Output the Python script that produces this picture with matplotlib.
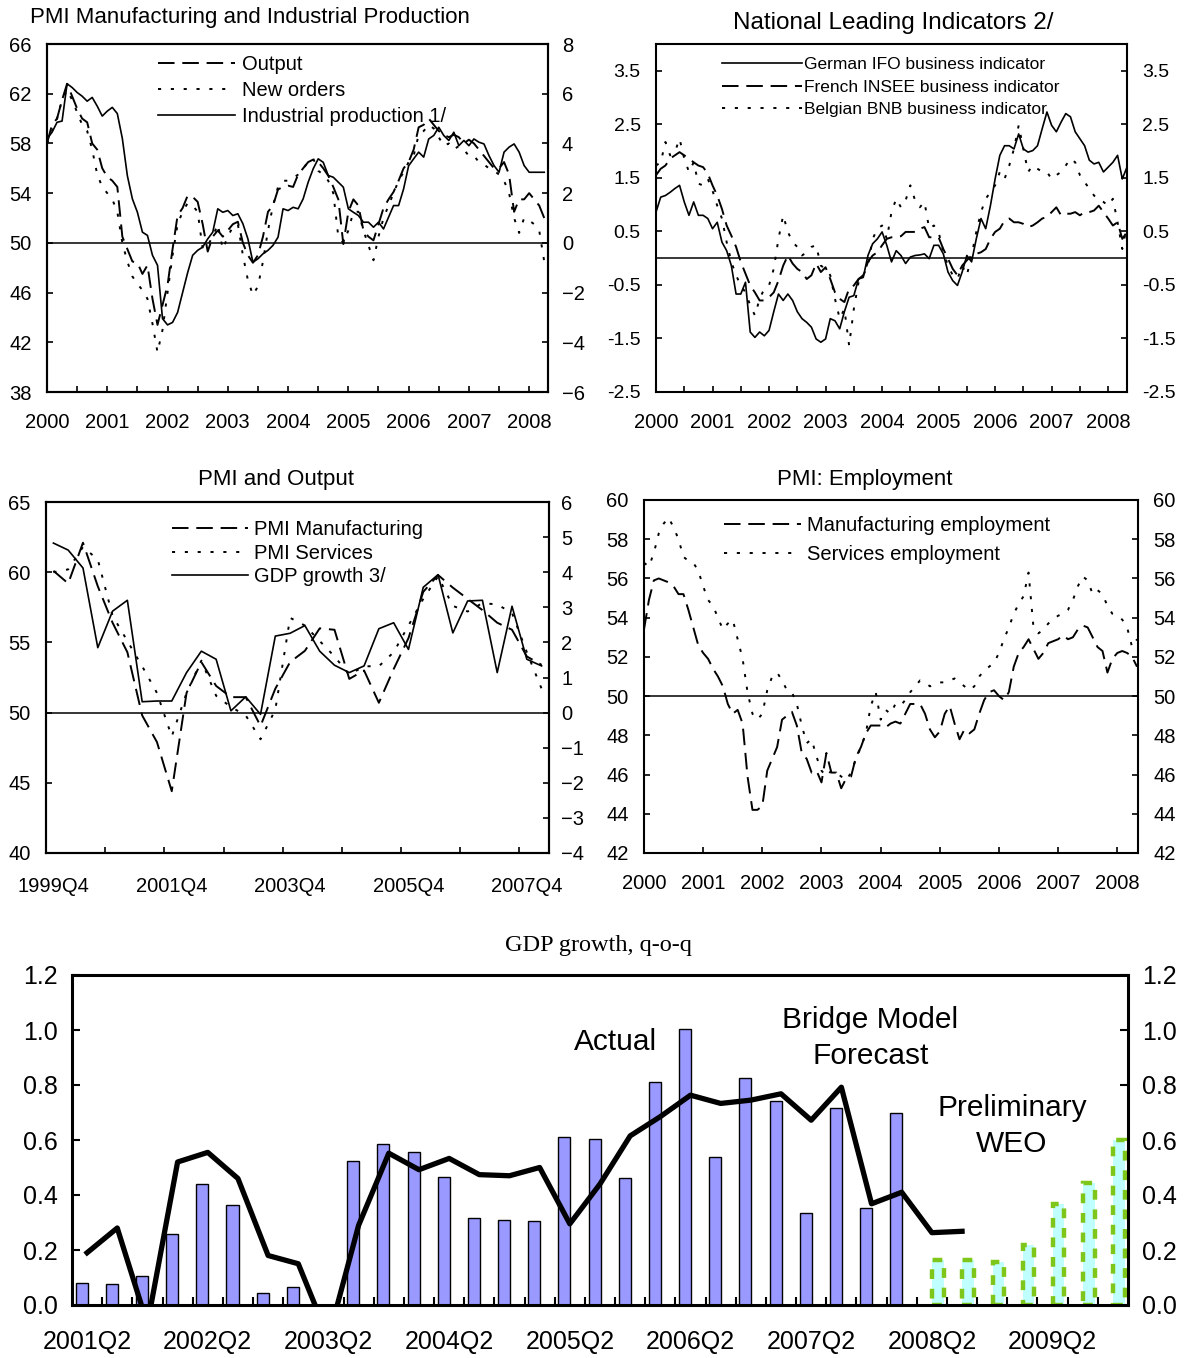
import numpy as np
import matplotlib.pyplot as plt

plt.rcParams['font.family'] = ['Liberation Sans', 'DejaVu Sans']


# ---------------- data ----------------
yearLabels = [str(y) for y in range(2000, 2009)]

# PMI Manufacturing and Industrial Production (monthly, Jan 2000 ..)
pmiOutput = [58.0, 59.5, 60.0, 61.5, 62.8, 61.8, 60.8, 60.0, 59.7, 58.0,
             57.5, 56.0, 55.3, 55.0, 54.5, 50.5, 49.5, 48.5, 48.4, 47.5,
             48.2, 45.5, 43.4, 45.0, 46.6, 49.5, 52.2, 52.8, 53.8, 53.7,
             53.3, 51.5, 49.3, 50.5, 51.0, 50.5, 51.0, 51.5, 51.7, 50.0,
             49.0, 48.4, 49.0, 50.5, 52.5, 53.0, 54.3, 54.5, 54.6, 54.5,
             55.5, 56.0, 56.5, 56.7, 56.5, 56.0, 55.4, 54.5, 53.5, 49.9,
             52.5, 53.5, 53.0, 51.0, 50.5, 50.2, 51.5, 52.8, 53.5, 54.1,
             55.0, 56.0, 56.5, 57.5, 59.3, 59.5, 60.0, 59.5, 59.0, 58.7,
             58.5, 58.7, 58.5, 58.0, 58.3, 58.0, 57.5, 57.0, 56.5, 56.0,
             56.0, 56.5, 55.5, 52.5, 53.5, 53.5, 54.0, 53.5, 53.0, 52.0]
pmiNewOrders = [58.0, 59.0, 60.0, 61.5, 62.3, 61.5, 60.5, 59.5, 59.0, 57.5,
                55.5, 54.5, 54.0, 53.5, 52.5, 50.0, 48.5, 47.3, 46.7, 46.2,
                45.5, 43.5, 41.2, 43.0, 46.0, 49.0, 51.5, 52.5, 53.2, 53.0,
                52.5, 49.5, 49.8, 50.5, 51.5, 49.5, 50.5, 51.3, 51.5, 49.0,
                47.0, 45.8, 46.5, 48.5, 51.0, 53.0, 54.5, 55.0, 55.0, 55.2,
                55.5, 56.0, 56.5, 56.8, 55.8, 55.5, 55.0, 54.0, 50.5, 50.0,
                51.0, 52.5, 52.5, 51.0, 49.8, 48.6, 50.5, 52.0, 53.0, 54.0,
                55.0, 55.7, 56.5, 57.0, 58.7, 59.0, 59.5, 59.2, 58.5, 57.8,
                58.0, 57.5, 57.8, 57.5, 57.0, 57.0, 56.5, 56.3, 56.0, 55.8,
                55.5, 55.0, 54.0, 52.0, 50.8, 52.0, 51.8, 51.5, 51.0, 48.5]
industrialProd = [4.18, 4.45, 4.85, 4.9, 6.4, 6.25, 6.05, 5.9, 5.7, 5.85,
                  5.5, 5.1, 5.3, 5.45, 5.2, 4.2, 2.7, 1.77, 1.23, 0.43,
                  0.3, -0.5, -0.9, -3.05, -3.3, -3.2, -2.8, -2.0, -1.2, -0.5,
                  -0.3, -0.17, 0.16, 0.43, 1.37, 1.23, 1.3, 1.1, 1.17, 0.77,
                  0.16, -0.78, -0.64, -0.44, -0.3, -0.1, 0.23, 1.37, 1.3, 1.43,
                  1.37, 1.77, 2.44, 2.98, 3.38, 3.24, 2.71, 2.64, 2.44, 2.24,
                  1.37, 1.23, 1.1, 0.83, 0.83, 0.63, 0.83, 0.56, 1.03, 1.5,
                  1.5, 2.17, 3.1, 3.38, 3.65, 3.45, 4.18, 4.32, 4.65, 4.32,
                  4.12, 4.45, 3.91, 4.12, 3.91, 4.18, 4.05, 3.98, 3.51, 3.11,
                  2.84, 3.65, 3.85, 3.98, 3.65, 3.11, 2.84, 2.84, 2.84, 2.84]

# National leading indicators (monthly, Jan 2000 ..)
ifoGerman = [0.86, 1.14, 1.17, 1.23, 1.3, 1.36, 1.05, 0.8, 1.05, 0.8,
             0.8, 0.74, 0.55, 0.67, 0.3, 0.14, -0.14, -0.67, -0.67, -0.45,
             -1.38, -1.48, -1.38, -1.45, -1.35, -1.0, -0.67, -0.79, -0.67, -0.79,
             -1.0, -1.13, -1.2, -1.29, -1.51, -1.57, -1.51, -1.13, -1.17, -1.32,
             -1.0, -0.73, -0.7, -0.39, -0.36, 0.05, 0.27, 0.36, 0.49, 0.24,
             -0.07, 0.14, 0.05, -0.1, 0.02, 0.05, 0.06, 0.08, -0.01, 0.24,
             0.24, 0.08, -0.26, -0.42, -0.51, -0.26, 0.05, -0.07, 0.36, 0.74,
             0.55, 0.98, 1.48, 1.92, 2.1, 2.1, 2.04, 2.32, 2.04, 1.98,
             2.01, 2.1, 2.42, 2.73, 2.48, 2.36, 2.54, 2.7, 2.64, 2.36,
             2.23, 2.1, 1.83, 1.76, 1.79, 1.61, 1.7, 1.79, 1.92, 1.48, 1.7]
inseeFrench = [1.55, 1.67, 1.73, 1.86, 1.92, 1.98, 1.92, 1.86, 1.79, 1.73,
               1.7, 1.58, 1.36, 1.17, 0.92, 0.61, 0.42, 0.21, -0.07, -0.29,
               -0.51, -0.64, -0.79, -0.79, -0.73, -0.64, -0.42, -0.14, 0.05, -0.1,
               -0.2, -0.26, -0.39, -0.32, -0.1, -0.26, -0.17, -0.39, -0.64, -0.76,
               -0.82, -0.57, -0.51, -0.39, -0.32, -0.07, 0.05, 0.11, 0.24, 0.36,
               0.39, 0.39, 0.41, 0.49, 0.49, 0.49, 0.55, 0.58, 0.39, 0.39,
               0.39, 0.17, -0.01, -0.2, -0.32, -0.14, -0.04, 0.05, 0.08, 0.11,
               0.17, 0.36, 0.49, 0.55, 0.7, 0.74, 0.67, 0.67, 0.64, 0.58,
               0.61, 0.67, 0.74, 0.77, 0.86, 0.95, 0.8, 0.83, 0.83, 0.86,
               0.8, 0.86, 0.86, 0.89, 0.98, 0.86, 0.74, 0.61, 0.67, 0.36, 0.49]
bnbBelgian = [1.73, 1.79, 2.17, 1.92, 1.98, 2.23, 1.86, 1.61, 1.79, 1.39,
              1.36, 1.48, 1.26, 0.98, 0.74, 0.3, -0.07, -0.32, -0.51, -0.64,
              -0.88, -1.07, -0.76, -0.57, -0.51, -0.2, 0.36, 0.8, 0.49, 0.3,
              0.21, 0.05, 0.11, 0.21, 0.24, -0.14, -0.2, -0.32, -0.76, -1.13,
              -0.95, -1.63, -0.95, -0.45, -0.32, -0.14, 0.36, 0.55, 0.61, 0.36,
              0.86, 1.11, 0.95, 1.08, 1.36, 1.08, 0.95, 1.05, 0.55, 0.61,
              0.49, 0.11, -0.14, -0.32, -0.39, -0.14, -0.32, 0.05, 0.49, 0.86,
              1.11, 1.23, 1.36, 1.61, 1.48, 1.73, 2.04, 2.48, 2.04, 1.61,
              1.73, 1.67, 1.61, 1.61, 1.48, 1.55, 1.61, 1.73, 1.86, 1.79,
              1.55, 1.42, 1.3, 1.17, 1.08, 1.05, 0.98, 1.11, 0.67, 0.17, 0.61]

# PMI and Output (quarterly, 1999Q4 .. 2008Q1)
quarterTickLabels = ['1999Q4', '2001Q4', '2003Q4', '2005Q4', '2007Q4']
pmiManufQ = [60.1, 59.2, 62.1, 59.0, 56.4, 54.3, 49.8, 47.9, 44.4, 51.4,
             53.6, 51.9, 51.1, 51.1, 49.05, 51.7, 53.6, 54.4, 56.0, 55.9,
             52.4, 53.0, 50.7, 53.1, 55.3, 58.6, 59.8, 58.9, 58.1, 57.3,
             56.4, 55.9, 54.0, 53.4]
pmiServicesQ = [60.0, 60.2, 61.8, 60.9, 56.9, 55.1, 53.3, 51.4, 48.3, 51.4,
                53.7, 51.2, 50.4, 49.8, 48.1, 50.2, 56.75, 56.2, 55.1, 54.0,
                52.7, 53.3, 53.3, 54.3, 56.2, 58.1, 59.7, 57.6, 57.2, 57.8,
                57.7, 57.1, 54.3, 51.7]
gdpGrowthQ = [4.83, 4.63, 4.12, 1.85, 2.89, 3.2, 0.31, 0.33, 0.33, 1.14,
              1.75, 1.52, 0.05, 0.45, -0.05, 2.18, 2.26, 2.48, 1.75, 1.35,
              1.14, 1.33, 2.39, 2.56, 1.8, 3.57, 3.93, 2.27, 3.18, 3.2,
              1.14, 3.03, 1.52, 1.33]

# PMI employment (monthly, Jan 2000 ..)
empManufacturing = [53.4, 54.9, 55.9, 56.0, 55.9, 55.8, 55.6, 55.2, 55.2, 54.4,
                    53.5, 52.6, 52.2, 51.9, 51.4, 51.0, 50.5, 49.6, 49.1, 49.3,
                    48.6, 45.9, 44.2, 44.2, 44.4, 46.2, 46.8, 47.4, 48.8, 49.0,
                    49.2, 48.5, 47.1, 46.8, 46.1, 46.2, 45.6, 47.1, 46.1, 46.1,
                    45.3, 45.8, 45.9, 46.9, 47.4, 48.1, 48.5, 48.5, 48.5, 48.4,
                    48.6, 48.7, 48.6, 49.1, 49.6, 49.6, 49.6, 49.1, 48.3, 47.9,
                    48.2, 49.1, 49.5, 48.6, 47.8, 48.3, 48.1, 48.3, 49.1, 49.8,
                    50.2, 50.3, 50.0, 49.8, 50.2, 51.5, 52.2, 52.5, 52.9, 52.4,
                    51.9, 52.2, 52.7, 52.8, 52.9, 53.1, 52.9, 53.0, 53.4, 53.6,
                    53.5, 53.0, 52.5, 52.3, 51.2, 51.9, 52.2, 52.3, 52.2, 52.0, 51.5]
empServices = [56.8, 56.6, 57.3, 58.3, 58.8, 59.1, 58.6, 58.0, 57.1, 56.9,
               56.8, 56.4, 55.6, 54.9, 54.6, 54.0, 53.4, 53.7, 53.9, 52.9,
               51.9, 50.2, 49.1, 48.8, 49.1, 50.3, 51.0, 51.2, 50.8, 50.3,
               50.2, 49.6, 48.5, 47.6, 47.8, 46.9, 46.2, 45.9, 46.2, 46.1,
               45.9, 45.7, 46.1, 46.8, 47.4, 48.1, 49.5, 50.2, 48.8, 49.3,
               49.1, 49.6, 49.5, 49.8, 50.2, 50.5, 50.8, 50.7, 50.5, 50.6,
               50.7, 50.7, 50.8, 50.9, 50.7, 50.5, 50.3, 50.5, 51.0, 51.3,
               51.5, 51.7, 52.2, 52.9, 53.5, 54.2, 54.7, 55.1, 56.3, 53.5,
               53.2, 53.4, 53.7, 53.9, 54.1, 54.2, 54.4, 54.9, 55.6, 56.1,
               55.9, 55.2, 55.4, 55.2, 54.6, 54.2, 54.1, 53.9, 53.5, 52.5, 52.9]

# GDP growth q-o-q (2001Q2 .. 2009Q4)
gdpQuarters = [f'{y}Q{q}' for y in range(2001, 2010) for q in range(1, 5)][1:]
gdpActual = [0.08, 0.075, 0.105, 0.26, 0.44, 0.365, 0.045, 0.065, 0.0, 0.525,
             0.585, 0.555, 0.465, 0.315, 0.31, 0.305, 0.61, 0.605, 0.462, 0.81,
             1.003, 0.54, 0.826, 0.742, 0.334, 0.718, 0.352, 0.70]
bridgeForecast = [0.19, 0.28, -0.07, 0.52, 0.555, 0.46, 0.18, 0.15, -0.12, 0.29,
                  0.552, 0.492, 0.533, 0.474, 0.47, 0.50, 0.295, 0.44, 0.615, 0.685,
                  0.763, 0.733, 0.745, 0.768, 0.672, 0.792, 0.368, 0.41, 0.263, 0.268]
weoPrelim = [0.163, 0.163, 0.157, 0.22, 0.367, 0.444, 0.60]


# ---------------- helpers ----------------
FIG_W, FIG_H = 1186, 1358
DASHED = (8.5, 4.0)
DOTTED = (1.6, 5.0)


def pxAxes(fig, left, top, right, bottom):
    # axes placed from pixel edges of the reference
    return fig.add_axes([left / FIG_W, 1 - bottom / FIG_H,
                         (right - left) / FIG_W, (bottom - top) / FIG_H])


def frame(ax, lw=1.5):
    for s in ax.spines.values():
        s.set_linewidth(lw)


def monthAxis(ax, step, xmax):
    ticks = list(range(step, int(xmax), step))
    ax.set_xticks([0] + ticks)
    ax.set_xticklabels([yearLabels[m // 12] if m % 12 == 0 else '' for m in [0] + ticks])
    ax.set_xlim(0, xmax)
    ax.tick_params(axis='x', direction='in', length=4.5, width=1.2, pad=15, labelsize=14.5)


def styleLegend(ax, handles, x, y, fs, hlen, tpad, spacing):
    ax.legend(handles=handles, loc='upper left', bbox_to_anchor=(x, y), frameon=False,
              fontsize=fs, handlelength=hlen, handletextpad=tpad, labelspacing=spacing,
              borderpad=0, borderaxespad=0)


fig = plt.figure(figsize=(FIG_W / 100, FIG_H / 100), dpi=100)


# ---------- PMI Manufacturing and Industrial Production ----------
ax1 = pxAxes(fig, 47, 44, 548, 392)
ax1b = ax1.twinx()
months = np.arange(len(pmiOutput))
l1, = ax1.plot(months, pmiOutput, color='k', lw=1.4, dashes=DASHED, label='Output')
l2, = ax1.plot(months, pmiNewOrders, color='k', lw=1.4, dashes=DOTTED, label='New orders')
l3, = ax1b.plot(months, industrialProd, color='k', lw=1.2, label='Industrial production 1/')
ax1.axhline(50, color='k', lw=1.1)
ax1.set_ylim(38, 66)
ax1.set_yticks(range(38, 67, 4))
ax1b.set_ylim(-6, 8)
ax1b.set_yticks(range(-6, 9, 2))
monthAxis(ax1, 6, 99.75)
ax1.tick_params(axis='y', direction='in', length=4.5, width=1.2, pad=11, labelsize=14.5)
ax1b.tick_params(axis='y', direction='in', length=4.5, width=1.2, pad=10, labelsize=14.5)
frame(ax1); frame(ax1b)
styleLegend(ax1b, [l1, l2, l3], 0.222, 0.968, 14.5, 3.8, 0.35, 0.345)
fig.text(30 / FIG_W, 1 - 18 / FIG_H, 'PMI Manufacturing and Industrial Production',
         ha='left', va='center', fontsize=16)


# ---------- National Leading Indicators ----------
ax2 = pxAxes(fig, 656, 44, 1127, 392)
months2 = np.arange(len(ifoGerman))
h1, = ax2.plot(months2, ifoGerman, color='k', lw=1.2, label='German IFO business indicator')
h2, = ax2.plot(months2, inseeFrench, color='k', lw=1.4, dashes=DASHED, label='French INSEE business indicator')
h3, = ax2.plot(months2, bnbBelgian, color='k', lw=1.4, dashes=DOTTED, label='Belgian BNB business indicator')
ax2.axhline(0, color='k', lw=1.1)
ax2.set_ylim(-2.5, 4.0)
ax2.set_yticks(np.arange(-2.5, 3.6, 1.0))
ax2.set_yticklabels([f'{v:.1f}' for v in np.arange(-2.5, 3.6, 1.0)])
monthAxis(ax2, 6, 100)
ax2.tick_params(axis='y', direction='in', length=4.5, width=1.2, pad=11, labelsize=14,
                right=True, labelright=True)
frame(ax2)
styleLegend(ax2, [h1, h2, h3], 0.14, 0.9635, 12.5, 4.6, 0.1, 0.44)
fig.text(893 / FIG_W, 1 - 23 / FIG_H, 'National Leading Indicators 2/',
         ha='center', va='center', fontsize=17.5)


# ---------- PMI and Output ----------
ax3 = pxAxes(fig, 46, 502, 549, 853)
ax3b = ax3.twinx()
qIdx = np.arange(len(pmiManufQ))
q1, = ax3.plot(qIdx, pmiManufQ, color='k', lw=1.4, dashes=DASHED, label='PMI Manufacturing')
q2, = ax3.plot(qIdx, pmiServicesQ, color='k', lw=1.4, dashes=DOTTED, label='PMI Services')
q3, = ax3b.plot(qIdx, gdpGrowthQ, color='k', lw=1.2, label='GDP growth 3/')
ax3.axhline(50, color='k', lw=1.1)
ax3.set_ylim(40, 65)
ax3.set_yticks(range(40, 66, 5))
ax3b.set_ylim(-4, 6)
ax3b.set_yticks(range(-4, 7))
ax3.set_xlim(-0.5, len(pmiManufQ) - 0.5)
ax3.set_xticks(np.arange(3.5, len(pmiManufQ) - 1, 4))
ax3.set_xticklabels([])
ax3.set_xticks(np.arange(0, len(pmiManufQ), 8), minor=True)
ax3.set_xticklabels(quarterTickLabels, minor=True)
ax3.tick_params(axis='x', which='major', direction='in', length=4.5, width=1.2)
ax3.tick_params(axis='x', which='minor', length=0, pad=17, labelsize=14.5)
ax3.tick_params(axis='y', direction='in', length=4.5, width=1.2, pad=11, labelsize=14.5)
ax3b.tick_params(axis='y', direction='in', length=4.5, width=1.2, pad=9, labelsize=14.5)
frame(ax3); frame(ax3b)
styleLegend(ax3b, [q1, q2, q3], 0.25, 0.948, 14.5, 3.8, 0.3, 0.225)
fig.text(276 / FIG_W, 1 - 479 / FIG_H, 'PMI and Output', ha='center', va='center', fontsize=16)


# ---------- PMI: Employment ----------
ax4 = pxAxes(fig, 644, 500, 1138, 853)
months4 = np.arange(len(empManufacturing))
e1, = ax4.plot(months4, empManufacturing, color='k', lw=1.4, dashes=DASHED, label='Manufacturing employment')
e2, = ax4.plot(months4, empServices, color='k', lw=1.4, dashes=DOTTED, label='Services employment')
ax4.axhline(50, color='k', lw=1.1)
ax4.set_ylim(42, 60)
ax4.set_yticks(range(42, 61, 2))
monthAxis(ax4, 12, 100.2)
ax4.tick_params(axis='y', direction='in', length=4.5, width=1.2, pad=11, labelsize=14.5,
                right=True, labelright=True)
frame(ax4)
styleLegend(ax4, [e1, e2], 0.162, 0.954, 14.5, 3.8, 0.3, 0.47)
fig.text(865 / FIG_W, 1 - 479 / FIG_H, 'PMI: Employment', ha='center', va='center', fontsize=16)


# ---------- GDP growth, q-o-q ----------
ax5 = pxAxes(fig, 72, 975, 1128, 1305)
nQ = len(gdpQuarters)
actIdx = np.arange(len(gdpActual))
weoIdx = np.arange(len(gdpActual), len(gdpActual) + len(weoPrelim))
lineIdx = np.arange(len(bridgeForecast))
ax5.bar(actIdx - 0.18, gdpActual, width=0.4, color='#9999FF', edgecolor='black', lw=1.0, zorder=2)
ax5.bar(weoIdx + 0.2, weoPrelim, width=0.38, color='#BFFFFF', edgecolor='#7EC61A',
        lw=3.2, linestyle=(0, (2.2, 2.2)), zorder=2)
ax5.plot(lineIdx, bridgeForecast, color='k', lw=3.8, zorder=3)
ax5.set_ylim(0, 1.2)
ax5.set_xlim(-0.5, nQ - 0.5)
ax5.set_yticks(np.arange(0, 1.21, 0.2))
ax5.set_yticklabels([f'{v:.1f}' for v in np.arange(0, 1.21, 0.2)])
ax5.set_xticks(np.arange(0.5, nQ - 1, 1))
ax5.set_xticklabels([])
ax5.set_xticks(np.arange(0, nQ, 4), minor=True)
ax5.set_xticklabels(gdpQuarters[::4], minor=True)
ax5.tick_params(axis='x', which='major', direction='in', length=6, width=1.5)
ax5.tick_params(axis='x', which='minor', length=0, pad=18, labelsize=18)
ax5.tick_params(axis='y', direction='in', length=6, width=1.5, pad=10, labelsize=18,
                right=True, labelright=True)
frame(ax5, 2.2)
ax5.text(0.515, 0.797, 'Actual', transform=ax5.transAxes, ha='center', va='center', fontsize=21.5)
ax5.text(0.756, 0.81, 'Bridge Model\nForecast', transform=ax5.transAxes, ha='center',
         va='center', fontsize=21.5, linespacing=1.35)
ax5.text(0.890, 0.543, 'Preliminary\nWEO', transform=ax5.transAxes, ha='center',
         va='center', fontsize=21.5, linespacing=1.35)
fig.text(598 / FIG_W, 1 - 946 / FIG_H, 'GDP growth, q-o-q', ha='center', va='center',
         fontsize=17.5, family=['Liberation Serif', 'DejaVu Serif'])

fig.savefig('out.png', dpi=100)
